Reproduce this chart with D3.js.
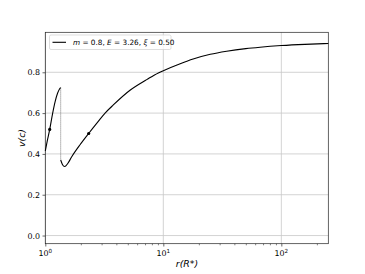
<!DOCTYPE html>
<html><head><meta charset="utf-8">
<script src="https://cdn.jsdelivr.net/npm/d3@7"></script>
<style>body{margin:0;background:#fff}svg{display:block}text{font-family:"DejaVu Sans",sans-serif;fill:#000}</style>
</head><body><svg id="c" width="365" height="274"></svg>
<script>
// Upper (subsonic) branch
const upperR = [1.00, 1.04, 1.09, 1.155, 1.21, 1.27, 1.32, 1.35];
const upperV = [0.415, 0.465, 0.52, 0.60, 0.655, 0.697, 0.718, 0.725];
// Lower branch after the jump
const lowerR = [1.35, 1.40, 1.46, 1.55, 1.67, 1.97, 2.33, 2.8, 3.21, 3.77, 5.22, 7.23, 9.07, 10, 13.9, 17.9, 25, 34.4, 50, 66, 100, 158, 250];
const lowerV = [0.37, 0.347, 0.338, 0.353, 0.385, 0.445, 0.50, 0.558, 0.60, 0.64, 0.712, 0.764, 0.797, 0.808, 0.842, 0.865, 0.888, 0.903, 0.916, 0.923, 0.931, 0.937, 0.941];
// Jump (dotted)
const jumpR = [1.35, 1.35];
const jumpV = [0.725, 0.37];
// Marked points
const markR = [1.09, 2.33];
const markV = [0.52, 0.50];
const yTicks = [0.0, 0.2, 0.4, 0.6, 0.8];
const xTicks = [1, 10, 100];
const xTickExp = ["0", "1", "2"];
const legendParts = [["m", true], [" = 0.8, ", false], ["E", true], [" = 3.26, ", false], ["ξ", true], [" = 0.50", false]];

const svg = d3.select("#c");
const L = 45.3, R = 328.3, T = 32.3, B = 243.7;
const x = d3.scaleLog().domain([1, 250]).range([L, R]);
const y = d3.scaleLinear().domain([-0.04, 0.996]).range([B, T]);

// grid
const g = svg.append("g");
g.selectAll(".gx").data(xTicks).join("line")
  .attr("x1", d => x(d)).attr("x2", d => x(d)).attr("y1", T).attr("y2", B)
  .attr("stroke", "#c8c8c8").attr("stroke-width", 0.8);
g.selectAll(".gy").data(yTicks).join("line")
  .attr("x1", L).attr("x2", R).attr("y1", d => y(d)).attr("y2", d => y(d))
  .attr("stroke", "#c8c8c8").attr("stroke-width", 0.8);

// axes
const yAxis = d3.axisLeft(y).tickValues(yTicks).tickFormat(d3.format(".1f")).tickSize(2.8).tickPadding(2.5);
const ya = svg.append("g").attr("transform", `translate(${L},0)`).call(yAxis);
ya.select(".domain").remove();
ya.selectAll("text").attr("font-size", 7.9).attr("font-family", "DejaVu Sans");
ya.selectAll("line").attr("stroke", "#000").attr("stroke-width", 0.6);

const minor = [];
for (let e = 0; e < 3; e++) for (let k = 2; k <= 9; k++) { const v = k * Math.pow(10, e); if (v <= 250) minor.push(v); }
const xa = svg.append("g").attr("transform", `translate(0,${B})`);
xa.call(d3.axisBottom(x).tickValues(minor).tickSize(1.6).tickFormat(""));
xa.select(".domain").remove();
xa.selectAll("line").attr("stroke", "#000").attr("stroke-width", 0.5);
const xm = svg.append("g").attr("transform", `translate(0,${B})`);
xm.call(d3.axisBottom(x).tickValues(xTicks).tickSize(2.8).tickFormat(""));
xm.select(".domain").remove();
xm.selectAll("line").attr("stroke", "#000").attr("stroke-width", 0.6);
const xl = svg.append("g");
xTicks.forEach((d, i) => {
  const t = xl.append("text").attr("x", x(d)).attr("y", 256).attr("text-anchor", "middle").attr("font-size", 7.9);
  t.append("tspan").text("10");
  t.append("tspan").attr("dy", -3.2).attr("font-size", 5.6).text(xTickExp[i]);
});

// frame
svg.append("rect").attr("x", L).attr("y", T).attr("width", R - L).attr("height", B - T)
  .attr("fill", "none").attr("stroke", "#222").attr("stroke-width", 0.7);

// lines
const line = d3.line().x(d => x(d[0])).y(d => y(d[1])).curve(d3.curveMonotoneX);
svg.append("path").datum(upperR.map((r, i) => [r, upperV[i]])).attr("d", line)
  .attr("fill", "none").attr("stroke", "#000").attr("stroke-width", 1.1);
svg.append("path").datum(lowerR.map((r, i) => [r, lowerV[i]])).attr("d", line)
  .attr("fill", "none").attr("stroke", "#000").attr("stroke-width", 1.1);
svg.append("path").datum(jumpR.map((r, i) => [r, jumpV[i]])).attr("d", d3.line().x(d => x(d[0])).y(d => y(d[1])))
  .attr("fill", "none").attr("stroke", "#444").attr("stroke-width", 0.8).attr("stroke-dasharray", "0.9,1.1");
svg.selectAll(".mk").data(markR.map((r, i) => [r, markV[i]])).join("circle")
  .attr("cx", d => x(d[0])).attr("cy", d => y(d[1])).attr("r", 1.6).attr("fill", "#000");

// legend
svg.append("rect").attr("x", 49.5).attr("y", 35).attr("width", 121.5).attr("height", 14.5).attr("rx", 1.5)
  .attr("fill", "#fff").attr("fill-opacity", 0.8).attr("stroke", "#d0d0d0").attr("stroke-width", 0.7);
svg.append("line").attr("x1", 52.5).attr("x2", 66).attr("y1", 42.3).attr("y2", 42.3).attr("stroke", "#000").attr("stroke-width", 1.1);
const lt = svg.append("text").attr("x", 73).attr("y", 45).attr("font-size", 7.3);
legendParts.forEach(p => lt.append("tspan").attr("font-style", p[1] ? "italic" : "normal").text(p[0]));

// axis labels
svg.append("text").attr("x", 187).attr("y", 266.5).attr("text-anchor", "middle").attr("font-size", 9.4)
  .attr("font-style", "italic").text("r(R*)");
svg.append("text").attr("transform", "translate(24.5,138) rotate(-90)").attr("text-anchor", "middle")
  .attr("font-size", 9.4).attr("font-style", "italic").text("v(c)");
</script></body></html>
